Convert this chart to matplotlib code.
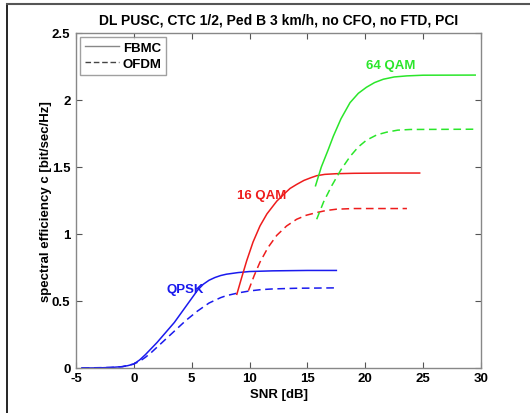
import matplotlib
matplotlib.use("Agg")
import matplotlib.pyplot as plt
from matplotlib.lines import Line2D

plt.rcParams['font.family'] = ['Liberation Sans', 'DejaVu Sans']
plt.rcParams['font.weight'] = 'bold'

# QPSK
qpsk_fbmc_x = [-4.5, -3, -2, -1, -0.5, 0, 0.5, 1, 1.5, 2, 2.5, 3, 3.5, 4, 4.5, 5, 5.5, 6, 6.5, 7, 7.5, 8, 9, 10, 12, 15, 17.5]
qpsk_fbmc_y = [0.0, 0.001, 0.004, 0.01, 0.018, 0.03, 0.06, 0.10, 0.145, 0.19, 0.24, 0.29, 0.34, 0.40, 0.46, 0.52, 0.58, 0.625, 0.655, 0.675, 0.69, 0.70, 0.712, 0.72, 0.725, 0.728, 0.728]
qpsk_ofdm_x = [-4.5, -2, -1, 0, 0.5, 1, 1.5, 2, 2.5, 3, 3.5, 4, 4.5, 5, 5.5, 6, 6.5, 7, 7.5, 8, 8.5, 9, 10, 11, 12, 14, 17.5]
qpsk_ofdm_y = [0.0, 0.004, 0.01, 0.03, 0.05, 0.08, 0.115, 0.155, 0.195, 0.235, 0.275, 0.315, 0.355, 0.39, 0.425, 0.455, 0.485, 0.505, 0.525, 0.54, 0.55, 0.56, 0.575, 0.585, 0.59, 0.595, 0.598]
# 16 QAM
qam16_fbmc_x = [8.9, 9.3, 9.75, 10.3, 10.9, 11.5, 12.35, 13, 13.5, 14.07, 14.7, 15.3, 15.8, 16.5, 17.5, 19, 22, 24.7]
qam16_fbmc_y = [0.55, 0.67, 0.80, 0.94, 1.06, 1.15, 1.245, 1.30, 1.34, 1.37, 1.40, 1.42, 1.435, 1.445, 1.45, 1.453, 1.455, 1.455]
qam16_ofdm_x = [9.9, 10.4, 10.9, 11.6, 12.35, 13.2, 14.07, 14.9, 15.8, 16.6, 17.5, 19, 23.6]
qam16_ofdm_y = [0.577, 0.69, 0.79, 0.90, 0.99, 1.06, 1.11, 1.14, 1.16, 1.175, 1.185, 1.19, 1.19]
# 64 QAM
qam64_fbmc_x = [15.7, 16.2, 16.8, 17.24, 17.9, 18.68, 19.4, 20.1, 20.8, 21.56, 22.5, 23.6, 25, 29.5]
qam64_fbmc_y = [1.36, 1.50, 1.63, 1.73, 1.86, 1.98, 2.05, 2.095, 2.13, 2.155, 2.172, 2.18, 2.185, 2.186]
qam64_ofdm_x = [15.8, 16.4, 17.1, 17.9, 18.7, 19.4, 20.1, 21, 21.85, 22.8, 23.9, 29.5]
qam64_ofdm_y = [1.11, 1.24, 1.36, 1.48, 1.58, 1.65, 1.70, 1.74, 1.76, 1.775, 1.78, 1.782]

xticks = [-5, 0, 5, 10, 15, 20, 25, 30]
yticks = [0, 0.5, 1, 1.5, 2, 2.5]
ytick_labels = ['0', '0.5', '1', '1.5', '2', '2.5']

BLUE = '#1a1aee'
RED = '#ee1c1c'
GREEN = '#2ae62a'
FS = 9.5

fig = plt.figure(figsize=(5.30, 4.14), dpi=100)
ax = fig.add_axes([76/530, 1-369/414, (481-76)/530, (369-34)/414])

lw = 1.1
dash = (0, (5, 3))
ax.plot(qpsk_fbmc_x, qpsk_fbmc_y, color=BLUE, lw=lw)
ax.plot(qpsk_ofdm_x, qpsk_ofdm_y, color=BLUE, lw=lw, ls=dash)
ax.plot(qam16_fbmc_x, qam16_fbmc_y, color=RED, lw=lw)
ax.plot(qam16_ofdm_x, qam16_ofdm_y, color=RED, lw=lw, ls=dash)
ax.plot(qam64_fbmc_x, qam64_fbmc_y, color=GREEN, lw=lw)
ax.plot(qam64_ofdm_x, qam64_ofdm_y, color=GREEN, lw=lw, ls=dash)

ax.text(4.42, 0.59, 'QPSK', color=BLUE, fontsize=FS, fontweight='bold', ha='center', va='center')
ax.text(11.07, 1.29, '16 QAM', color=RED, fontsize=FS, fontweight='bold', ha='center', va='center')
ax.text(22.2, 2.26, '64 QAM', color=GREEN, fontsize=FS, fontweight='bold', ha='center', va='center')

ax.set_xlim(-5, 30)
ax.set_ylim(0, 2.5)
ax.set_xticks(xticks)
ax.set_xticklabels([str(t) for t in xticks])
ax.set_yticks(yticks)
ax.set_yticklabels(ytick_labels)
ax.tick_params(direction='in', top=True, right=True, length=4, width=0.8,
               color='#555555', labelsize=FS)
ax.tick_params(axis='x', pad=3)
ax.tick_params(axis='y', pad=4)
for lab in ax.get_xticklabels() + ax.get_yticklabels():
    lab.set_fontweight('bold')
for s in ax.spines.values():
    s.set_color('#888888')
    s.set_linewidth(1.0)

ax.set_xlabel('SNR [dB]', fontsize=FS, fontweight='bold', labelpad=3)
ax.set_ylabel('spectral efficiency c [bit/sec/Hz]', fontsize=FS, fontweight='bold', labelpad=0)
ax.set_title('DL PUSC, CTC 1/2, Ped B 3 km/h, no CFO, no FTD, PCI', fontsize=10,
             fontweight='bold', pad=7)

handles = [Line2D([], [], color='#888888', lw=1.0),
           Line2D([], [], color='#444444', lw=1.0, ls=(0, (4, 2)))]
leg = ax.legend(handles, ['FBMC', 'OFDM'], loc='upper left',
                prop={'weight': 'bold', 'size': FS}, fancybox=False,
                edgecolor='#888888', handlelength=2.6, handletextpad=0.3,
                borderaxespad=0.3, borderpad=0.35, labelspacing=0.3)
leg.get_frame().set_linewidth(1.0)

# outer frame lines (left and top)
fig.add_artist(Line2D([7/530, 7/530], [0, 1-5/414], color='black', lw=1.2, transform=fig.transFigure))
fig.add_artist(Line2D([7/530, 1], [1-5/414, 1-5/414], color='#555555', lw=1.5, transform=fig.transFigure))

fig.savefig('out.png', dpi=100)
